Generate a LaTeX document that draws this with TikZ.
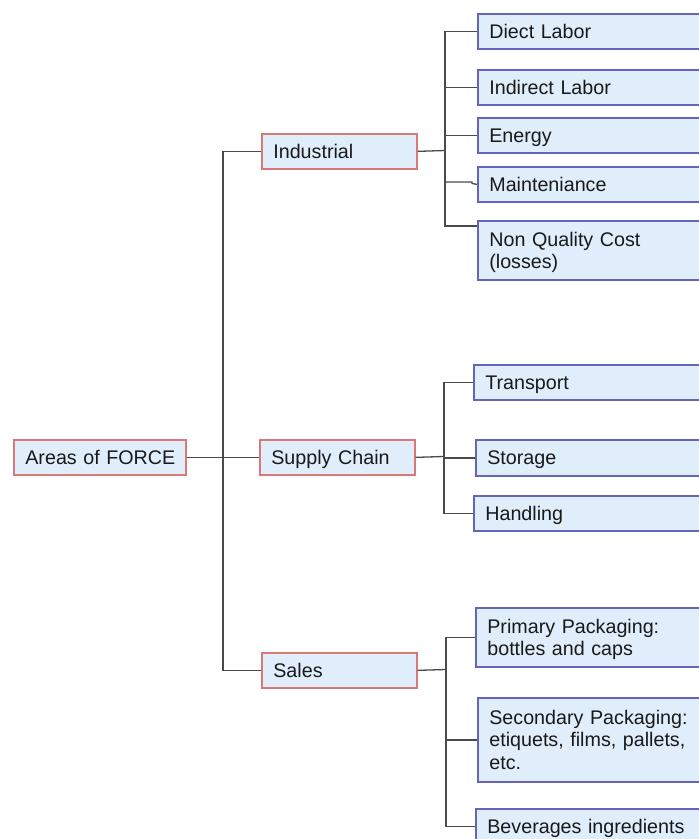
\documentclass[tikz,border=0pt]{standalone}
\usepackage{fontspec}
\setmainfont{Liberation Sans}
\begin{document}
\begin{tikzpicture}[x=1pt,y=-1pt,
  base/.style={draw, fill=boxfill, rectangle, anchor=north west, inner xsep=11.5pt, inner ysep=0pt,
    align=left, text=black!90, font=\fontsize{19.7}{22.3}\selectfont, line width=1.7pt,
    text height=16pt, text depth=2pt},
  redbox/.style={base, draw=redline, minimum height=35pt, text width=#1-23pt},
  bluebox/.style={base, draw=blueline, text width=217pt},
  twolines/.style={text depth=24.3pt},
  threelines/.style={text depth=46.6pt},
  conn/.style={draw=lineclr, line width=1.3pt}
]
\definecolor{boxfill}{HTML}{E0EEFB}
\definecolor{redline}{HTML}{D87878}
\definecolor{blueline}{HTML}{6464BC}
\definecolor{lineclr}{HTML}{4A4A4A}
\useasboundingbox (0,0) rectangle (699,839);
\clip (0,0) rectangle (699,839);
\fill[white] (0,0) rectangle (699,839);

% level 0 and 1
\node[redbox=172pt] (root) at (13,439) {\mbox{Areas of FORCE}};
\node[redbox=155pt] (ind) at (261,133) {Industrial};
\node[redbox=155pt] (sup) at (259,439) {Supply Chain};
\node[redbox=155pt] (sal) at (261,652) {Sales};

% level 2 - industrial
\node[bluebox, minimum height=35pt] (dl) at (477,13) {Diect Labor};
\node[bluebox, minimum height=35pt] (il) at (477,69) {Indirect Labor};
\node[bluebox, minimum height=35pt] (en) at (477,117) {Energy};
\node[bluebox, minimum height=35pt] (mn) at (477,166) {Mainteniance};
\node[bluebox, twolines, minimum height=59pt] (nq) at (477,220) {Non Quality Cost\\(losses)};

% level 2 - supply chain
\node[bluebox, minimum height=35pt] (tr) at (473,364) {Transport};
\node[bluebox, minimum height=36pt] (st) at (475,439) {Storage};
\node[bluebox, minimum height=35pt] (ha) at (473,495) {Handling};

% level 2 - sales
\node[bluebox, twolines, minimum height=59pt] (pp) at (475,607) {Primary Packaging:\\bottles and caps};
\node[bluebox, threelines, minimum height=84pt] (sp) at (477,697) {Secondary Packaging:\\etiquets, films, pallets,\\etc.};
\node[bluebox, minimum height=35pt] (bv) at (475,808) {Beverages ingredients};

% connectors level 0 -> 1
\coordinate (trunk) at (223,456.5);
\draw[conn] (root.east) -- (sup.west);
\draw[conn] (ind.west) -| (trunk) |- (sal.west);

% industrial bus
\coordinate (b1) at (445,150.5);
\coordinate (mj1) at (472,182);
\coordinate (mj2) at (472,183.5);
\draw[conn] (ind.east) -- (b1);
\draw[conn] (b1) |- (dl.west);
\draw[conn] (b1) |- (il.west);
\draw[conn] (b1) |- (en.west);
\draw[conn] (b1) |- (mj1) -- (mj2) -- (mn.west);
\draw[conn] (b1) |- ([yshift=-6pt]nq.north west);

% supply chain bus
\coordinate (b2) at (444,456.5);
\draw[conn] (sup.east) -- (b2);
\draw[conn] (b2) |- (tr.west);
\draw[conn] (b2) |- (st.west);
\draw[conn] (b2) |- (ha.west);

% sales bus
\coordinate (b3) at (446,669.5);
\draw[conn] (sal.east) -- (b3);
\draw[conn] (b3) |- (pp.west);
\draw[conn] (b3) |- (sp.west);
\draw[conn] (b3) |- (bv.west);
\end{tikzpicture}
\end{document}
